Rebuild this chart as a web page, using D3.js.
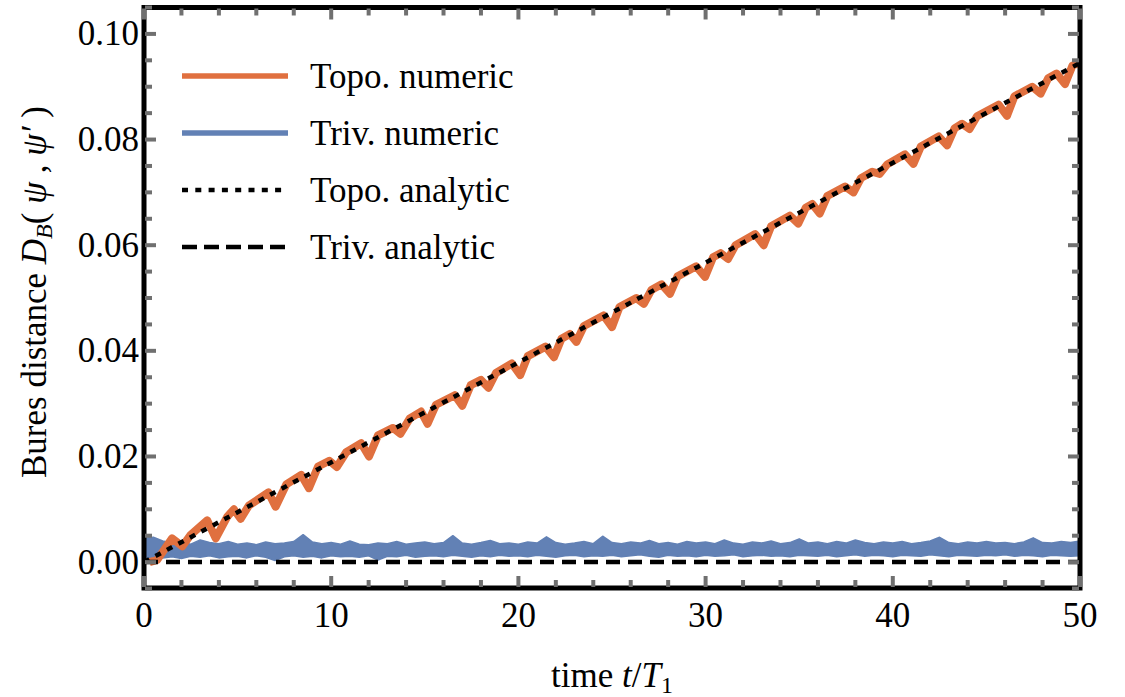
<!DOCTYPE html>
<html>
<head>
<meta charset="utf-8">
<script src="https://cdn.jsdelivr.net/npm/d3@7"></script>
<style>
  html, body { margin: 0; padding: 0; background: #fff; }
  svg { display: block; }
  svg text { font-family: "Liberation Serif", Tinos, "Times New Roman", monospace; }
</style>
</head>
<body>
<svg id="chart" width="1125" height="697"></svg>
<script>
// ---- data ---------------------------------------------------------------
// Topological case, numerical Bures distance: [time t/T1, D_B]
const topoNumeric = [
  [0.3, 0.0000], [0.7, 0.0004], [1.5, 0.0045],
  [2.05, 0.0030], [2.5, 0.0052], [3.38, 0.0079],
  [3.83, 0.0045], [4.45, 0.0086], [4.8, 0.0100],
  [5.16, 0.0082], [5.6, 0.0107], [6.65, 0.0132],
  [7.03, 0.0105], [7.6, 0.0147], [8.4, 0.0165],
  [8.81, 0.0140], [9.3, 0.0181], [9.9, 0.0192],
  [10.3, 0.0180], [10.8, 0.0208], [11.6, 0.0225],
  [12.02, 0.0200], [12.5, 0.0240], [13.3, 0.0254],
  [13.7, 0.0243], [14.2, 0.0272], [14.8, 0.0285],
  [15.15, 0.0262], [15.6, 0.0298], [16.6, 0.0316],
  [17.0, 0.0296], [17.45, 0.0335], [18.0, 0.0345],
  [18.4, 0.0330], [18.8, 0.0358], [19.65, 0.0376],
  [20.1, 0.0354], [20.5, 0.0390], [21.45, 0.0408],
  [21.9, 0.0388], [22.3, 0.0423], [22.75, 0.0432],
  [23.1, 0.0417], [23.5, 0.0447], [24.55, 0.0467],
  [25.0, 0.0445], [25.4, 0.0483], [26.3, 0.0500],
  [26.7, 0.0489], [27.1, 0.0515], [27.65, 0.0526],
  [28.1, 0.0508], [28.5, 0.0541], [29.5, 0.0560],
  [29.97, 0.0540], [30.4, 0.0577], [30.8, 0.0585],
  [31.2, 0.0574], [31.6, 0.0600], [32.65, 0.0621],
  [33.1, 0.0600], [33.5, 0.0636], [34.5, 0.0656],
  [34.95, 0.0641], [35.35, 0.0671], [35.7, 0.0678],
  [36.1, 0.0660], [36.5, 0.0693], [37.45, 0.0711],
  [37.9, 0.0700], [38.3, 0.0727], [38.9, 0.0739],
  [39.3, 0.0735], [39.7, 0.0753], [40.65, 0.0772],
  [41.1, 0.0754], [41.5, 0.0787], [42.45, 0.0806],
  [42.9, 0.0789], [43.3, 0.0821], [43.7, 0.0830],
  [44.1, 0.0820], [44.5, 0.0844], [45.65, 0.0866],
  [46.1, 0.0845], [46.5, 0.0882], [47.45, 0.0900],
  [47.9, 0.0887], [48.3, 0.0916], [48.75, 0.0925],
  [49.2, 0.0905], [49.6, 0.0940], [50.0, 0.0946]
];

// Trivial case, numerical: the fast oscillation fills a band, sampled every 0.5 T1
const trivTimes = d3.range(0, 50.001, 0.5);
const trivUpper = [
  0.0045, 0.0047, 0.0040, 0.0036, 0.0038, 0.0034, 0.0042, 0.0037, 0.0035, 0.0039,
  0.0034, 0.0036, 0.0033, 0.0038, 0.0035, 0.0036, 0.0039, 0.0052, 0.0038, 0.0035,
  0.0037, 0.0034, 0.0040, 0.0034, 0.0033, 0.0036, 0.0035, 0.0039, 0.0034, 0.0036,
  0.0038, 0.0035, 0.0037, 0.0050, 0.0036, 0.0034, 0.0037, 0.0041, 0.0035, 0.0036,
  0.0034, 0.0038, 0.0036, 0.0048, 0.0037, 0.0034, 0.0036, 0.0039, 0.0035, 0.0049,
  0.0037, 0.0035, 0.0038, 0.0036, 0.0041, 0.0035, 0.0037, 0.0034, 0.0039, 0.0036,
  0.0038, 0.0035, 0.0042, 0.0036, 0.0034, 0.0038, 0.0036, 0.0040, 0.0035, 0.0037,
  0.0044, 0.0036, 0.0038, 0.0035, 0.0039, 0.0036, 0.0042, 0.0037, 0.0035, 0.0038,
  0.0036, 0.0039, 0.0035, 0.0037, 0.0040, 0.0047, 0.0037, 0.0035, 0.0038, 0.0036,
  0.0039, 0.0036, 0.0037, 0.0035, 0.0038, 0.0046, 0.0037, 0.0036, 0.0039, 0.0037,
  0.0040
];
const trivLower = [
  0.0000, 0.0002, 0.0008, 0.0010, 0.0007, 0.0011, 0.0009, 0.0012, 0.0008, 0.0010,
  0.0011, 0.0008, 0.0012, 0.0009, 0.0003, 0.0010, 0.0012, 0.0009, 0.0011, 0.0008,
  0.0012, 0.0010, 0.0011, 0.0009, 0.0012, 0.0004, 0.0011, 0.0010, 0.0013, 0.0009,
  0.0011, 0.0012, 0.0010, 0.0013, 0.0011, 0.0009, 0.0012, 0.0010, 0.0013, 0.0011,
  0.0012, 0.0010, 0.0013, 0.0011, 0.0009, 0.0012, 0.0013, 0.0010, 0.0012, 0.0011,
  0.0013, 0.0010, 0.0012, 0.0014, 0.0011, 0.0009, 0.0013, 0.0011, 0.0012, 0.0010,
  0.0013, 0.0011, 0.0012, 0.0014, 0.0010, 0.0012, 0.0013, 0.0011, 0.0012, 0.0010,
  0.0013, 0.0012, 0.0011, 0.0013, 0.0010, 0.0012, 0.0014, 0.0011, 0.0013, 0.0012,
  0.0010, 0.0013, 0.0012, 0.0011, 0.0014, 0.0012, 0.0010, 0.0013, 0.0012, 0.0011,
  0.0013, 0.0012, 0.0014, 0.0011, 0.0013, 0.0012, 0.0010, 0.0013, 0.0012, 0.0011,
  0.0012
];

// Analytic predictions (straight lines): [time, D_B]
const topoAnalytic = [[0, 0.0], [50, 0.0945]];
const trivAnalytic = [[0, 0.0], [50, 0.0]];

// Ticks
const xMajorTicks = [0, 10, 20, 30, 40, 50];
const xMinorTicks = [2, 4, 6, 8, 12, 14, 16, 18, 22, 24, 26, 28, 32, 34, 36, 38, 42, 44, 46, 48];
const yMajorTicks = [0, 0.02, 0.04, 0.06, 0.08, 0.10];
const yMinorTicks = [-0.005, 0.005, 0.01, 0.015, 0.025, 0.03, 0.035, 0.045, 0.05, 0.055,
                     0.065, 0.07, 0.075, 0.085, 0.09, 0.095, 0.105];

const legendLabels = ["Topo. numeric", "Triv. numeric", "Topo. analytic", "Triv. analytic"];

// ---- layout ---------------------------------------------------------------
const orange = "#E0703F";
const blue = "#6281B5";
const tickGrey = "#707070";
const fontSize = 35;

const svg = d3.select("#chart");
const x = d3.scaleLinear().domain([0, 50]).range([144, 1080]);
const y = d3.scaleLinear().domain([-0.0049, 0.105]).range([588, 7.5]);

const [x0, x1] = x.range();
const [yB, yT] = y.range();

svg.append("clipPath").attr("id", "plotClip")
  .append("rect").attr("x", x0).attr("y", yT).attr("width", x1 - x0).attr("height", yB - yT);

const plot = svg.append("g").attr("clip-path", "url(#plotClip)");

// Trivial numeric band
const band = d3.area()
  .x((d, i) => x(trivTimes[i]))
  .y0((d, i) => y(trivLower[i]))
  .y1((d, i) => y(trivUpper[i]));
plot.append("path")
  .datum(trivUpper)
  .attr("d", band)
  .attr("fill", blue)
  .attr("stroke", blue)
  .attr("stroke-width", 1.5)
  .attr("stroke-linejoin", "round");

const line = d3.line().x(d => x(d[0])).y(d => y(d[1]));

// Topological numeric curve
plot.append("path")
  .datum(topoNumeric)
  .attr("d", line)
  .attr("fill", "none")
  .attr("stroke", orange)
  .attr("stroke-width", 8)
  .attr("stroke-linejoin", "round");

// Analytic lines
plot.append("path")
  .datum(topoAnalytic)
  .attr("d", line)
  .attr("fill", "none")
  .attr("stroke", "#000")
  .attr("stroke-width", 4.5)
  .attr("stroke-dasharray", "6,7");

plot.append("path")
  .datum(trivAnalytic)
  .attr("d", line)
  .attr("fill", "none")
  .attr("stroke", "#000")
  .attr("stroke-width", 4.5)
  .attr("stroke-dasharray", "14,8");

// ---- frame ----------------------------------------------------------------
svg.append("rect")
  .attr("x", x0).attr("y", yT)
  .attr("width", x1 - x0).attr("height", yB - yT)
  .attr("fill", "none")
  .attr("stroke", "#000")
  .attr("stroke-width", 5);

const ticks = svg.append("g")
  .attr("stroke", tickGrey)
  .attr("stroke-width", 4);

const majorLen = 11, minorLen = 7, inset = 1;
function xTicks(vals, len) {
  vals.forEach(v => {
    ticks.append("line").attr("x1", x(v)).attr("x2", x(v)).attr("y1", yB - inset).attr("y2", yB - inset - len);
    ticks.append("line").attr("x1", x(v)).attr("x2", x(v)).attr("y1", yT + inset).attr("y2", yT + inset + len);
  });
}
function yTicks(vals, len) {
  vals.forEach(v => {
    ticks.append("line").attr("y1", y(v)).attr("y2", y(v)).attr("x1", x0 + inset).attr("x2", x0 + inset + len);
    ticks.append("line").attr("y1", y(v)).attr("y2", y(v)).attr("x1", x1 - inset).attr("x2", x1 - inset - len);
  });
}
xTicks(xMinorTicks, minorLen);
xTicks(xMajorTicks, majorLen);
yTicks(yMinorTicks, minorLen);
yTicks(yMajorTicks, majorLen);

// Tick labels
svg.append("g").selectAll("text")
  .data(xMajorTicks).join("text")
  .attr("x", d => x(d))
  .attr("y", 627)
  .attr("text-anchor", "middle")
  .attr("font-size", fontSize)
  .text(d => d3.format("d")(d));

svg.append("g").selectAll("text")
  .data(yMajorTicks).join("text")
  .attr("x", 139)
  .attr("y", d => y(d) + 11.5)
  .attr("text-anchor", "end")
  .attr("font-size", fontSize)
  .text(d => d3.format(".2f")(d));

// Axis titles
const xTitle = svg.append("text")
  .attr("x", 612).attr("y", 687)
  .attr("text-anchor", "middle")
  .attr("font-size", fontSize);
xTitle.append("tspan").text("time ");
xTitle.append("tspan").attr("font-style", "italic").text("t");
xTitle.append("tspan").text("/");
xTitle.append("tspan").attr("font-style", "italic").text("T");
xTitle.append("tspan").attr("font-size", 24).attr("dy", 6).text("1");

const yTitle = svg.append("text")
  .attr("transform", "translate(46,292) rotate(-90)")
  .attr("text-anchor", "middle")
  .attr("font-size", fontSize);
yTitle.append("tspan").text("Bures distance ");
yTitle.append("tspan").attr("font-style", "italic").text("D");
yTitle.append("tspan").attr("font-style", "italic").attr("font-size", 24).attr("dy", 6).text("B");
yTitle.append("tspan").attr("dy", -6).text("( ");
yTitle.append("tspan").attr("font-style", "italic").text("ψ");
yTitle.append("tspan").text(" , ");
yTitle.append("tspan").attr("font-style", "italic").text("ψ′");
yTitle.append("tspan").text(" )");

// ---- legend ---------------------------------------------------------------
const legendStyles = [
  { stroke: orange, width: 5.5, dash: null },
  { stroke: blue, width: 5.5, dash: null },
  { stroke: "#000", width: 4.5, dash: "6,7.3" },
  { stroke: "#000", width: 4.5, dash: "15,7" }
];
const legend = svg.append("g");
legendLabels.forEach((label, i) => {
  const ly = 76 + i * 57;
  const s = legendStyles[i];
  legend.append("line")
    .attr("x1", 182).attr("x2", 288)
    .attr("y1", ly).attr("y2", ly)
    .attr("stroke", s.stroke)
    .attr("stroke-width", s.width)
    .attr("stroke-dasharray", s.dash);
  legend.append("text")
    .attr("x", 310).attr("y", ly + 12)
    .attr("font-size", fontSize)
    .text(label);
});
</script>
</body>
</html>
